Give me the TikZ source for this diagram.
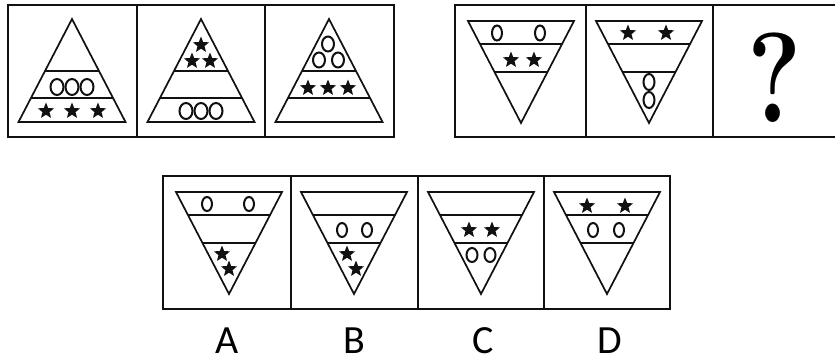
\documentclass[tikz,border=0pt]{standalone}
\usepackage{fontspec}
\usepackage{graphicx}
\usepackage{tikz}
\usetikzlibrary{shapes.geometric}
\newfontfamily\optfont{Carlito}
\definecolor{ink}{HTML}{111111}
% upright triangle, apex at (#1,19)
\newcommand{\uptri}[1]{%
  \draw[tri] (#1,19) -- (#1+53.5,122) -- (#1-53.5,122) -- cycle;
  \draw[tri] (#1-27,71) -- (#1+27,71);
  \draw[tri] (#1-41,98) -- (#1+41,98);}
% upside-down triangle, top edge at y=#2
\newcommand{\downtri}[2]{%
  \draw[tri] (#1-53,#2) -- (#1+53,#2) -- (#1,#2+102) -- cycle;
  \draw[tri] (#1-41,#2+23) -- (#1+41,#2+23);
  \draw[tri] (#1-26.5,#2+51) -- (#1+26.5,#2+51);}
\newcommand{\starat}[2]{\node[starmark] at (#1,#2) {};}
\newcommand{\ovalat}[4]{\node[ovalmark, minimum width=#3, minimum height=#4] at (#1,#2) {};}

\begin{document}
\begin{tikzpicture}[x=1pt,y=-1pt,
  frame/.style={draw=ink, line width=1.7pt},
  tri/.style={draw=ink, line width=1.7pt, line join=miter},
  starmark/.style={star, star points=5, star point ratio=2.3, fill=ink,
    inner sep=0pt, minimum size=17pt},
  ovalmark/.style={ellipse, draw=ink, line width=2pt, inner sep=0pt}]
  \fill[white] (0,0) rectangle (835,362);
  \useasboundingbox (0,0) rectangle (835,362);

  % top left row
  \draw[frame] (8,5) rectangle (394,137);
  \foreach \x in {137,265}{\draw[frame] (\x,5) -- (\x,137);}
  \uptri{72}
  \foreach \x in {57,72,87}{\ovalat{\x}{87}{13pt}{16pt}}
  \foreach \x in {46,72,98}{\starat{\x}{111}}
  \uptri{201}
  \starat{201}{45} \starat{192}{61} \starat{210}{61}
  \foreach \x in {186,201,216}{\ovalat{\x}{111}{13pt}{16pt}}
  \uptri{329}
  \ovalat{328}{44}{12pt}{15pt} \ovalat{319}{60}{12pt}{15pt} \ovalat{338}{60}{12pt}{15pt}
  \foreach \x in {308,328,348}{\starat{\x}{88}}

  % top right row
  \draw[frame] (841,5) -- (455,5) -- (455,137) -- (841,137);
  \foreach \x in {586,713}{\draw[frame] (\x,5) -- (\x,137);}
  \downtri{521}{21}
  \ovalat{497}{33}{10pt}{15pt} \ovalat{540}{33}{10pt}{15pt}
  \starat{511}{60} \starat{534}{60}
  \downtri{649}{21}
  \starat{628}{33} \starat{666}{33}
  \ovalat{649}{82}{11pt}{16pt} \ovalat{649}{100}{11pt}{16pt}
  \node[font=\fontsize{128}{128}\selectfont\bfseries, inner sep=0pt, anchor=base] (qmark) at (775,122) {\scalebox{0.8}[1]{?}};

  % options
  \draw[frame] (163,176) rectangle (670,309);
  \foreach \x in {291,418,544}{\draw[frame] (\x,176) -- (\x,309);}
  \downtri{229}{192}
  \ovalat{207}{204}{10pt}{14pt} \ovalat{249}{204}{10pt}{14pt}
  \starat{222}{254} \starat{229}{269}
  \downtri{354}{192}
  \ovalat{342}{230}{10pt}{14pt} \ovalat{367}{230}{10pt}{14pt}
  \starat{347}{254} \starat{356}{269}
  \downtri{481}{192}
  \starat{469}{230} \starat{492}{230}
  \ovalat{472}{255}{11pt}{14pt} \ovalat{490}{255}{11pt}{14pt}
  \downtri{607}{192}
  \starat{587}{206} \starat{625}{206}
  \ovalat{593}{230}{10pt}{14pt} \ovalat{619}{230}{10pt}{14pt}

  \foreach \x/\t in {227/A,354/B,483/C,610/D}{
    \node[font=\optfont\fontsize{40}{40}\selectfont, inner sep=0pt, anchor=base] (opt\t) at (\x,353) {\t};}
\end{tikzpicture}
\end{document}
